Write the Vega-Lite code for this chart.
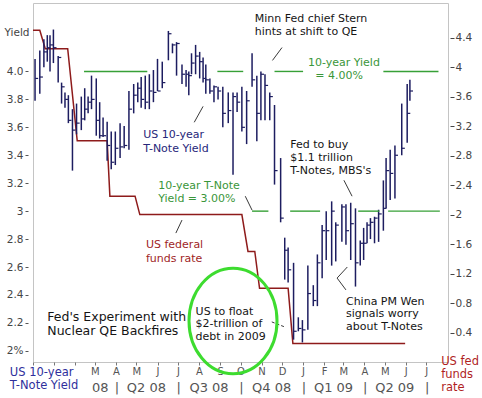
{
  "$schema": "https://vega.github.io/schema/vega-lite/v6.json",
  "width": 415,
  "height": 359,
  "autosize": {"type": "none"},
  "padding": {"left": 33, "top": 3, "right": 34, "bottom": 36},
  "background": "white",
  "config": {
    "view": {"stroke": "#c4c4c4", "strokeWidth": 1},
    "font": "DejaVu Sans",
    "axis": {"domain": false, "grid": false, "labelOverlap": false, "labelFlush": false, "labelBound": false}
  },
  "layer": [
    {
      "data": {"values": [
        {"date": "2007-12-01", "rate": 4.5},
        {"date": "2007-12-11", "rate": 4.5},
        {"date": "2007-12-19", "rate": 4.25},
        {"date": "2008-01-21", "rate": 4.25},
        {"date": "2008-02-04", "rate": 3.0},
        {"date": "2008-03-19", "rate": 3.0},
        {"date": "2008-03-23", "rate": 2.25},
        {"date": "2008-04-29", "rate": 2.25},
        {"date": "2008-05-06", "rate": 2.0},
        {"date": "2008-10-03", "rate": 2.0},
        {"date": "2008-10-12", "rate": 1.5},
        {"date": "2008-10-22", "rate": 1.5},
        {"date": "2008-10-29", "rate": 1.0},
        {"date": "2008-12-10", "rate": 1.0},
        {"date": "2008-12-17", "rate": 0.25},
        {"date": "2009-05-31", "rate": 0.25}
      ]},
      "mark": {"type": "line", "color": "#8e1b1b", "strokeWidth": 1.5},
      "encoding": {
        "x": {"field": "date", "type": "temporal", "axis": null,
              "scale": {"domain": [{"year": 2007, "month": 12, "date": 1, "utc": true}, {"year": 2009, "month": 8, "date": 2, "utc": true}], "nice": false}},
        "y": {"field": "rate", "type": "quantitative",
              "scale": {"domain": [0, 4.87], "nice": false, "zero": false},
              "axis": {"orient": "right", "title": null, "values": [0.4, 0.8, 1.2, 1.6, 2, 2.4, 2.8, 3.2, 3.6, 4, 4.4],
                       "labelExpr": "datum.value == 2 || datum.value == 4 ? format(datum.value, 'd') : format(datum.value, '.1f')",
                       "offset": 2, "tickSize": 4, "tickColor": "#444", "labelPadding": 1, "labelFontSize": 10.5, "labelColor": "#444",
                       "domain": false, "grid": false, "labelOverlap": false, "labelFlush": false}}
      }
    },
    {
      "layer": [
        {
          "data": {"name": "bars", "values": [
            {"date": "2007-12-04", "high": 4.09, "low": 3.79, "close": 3.95},
            {"date": "2007-12-11", "high": 4.15, "low": 3.84, "close": 3.96},
            {"date": "2007-12-17", "high": 4.23, "low": 4.03, "close": 4.14},
            {"date": "2007-12-22", "high": 4.26, "low": 4.07, "close": 4.17},
            {"date": "2007-12-26", "high": 4.26, "low": 4.00, "close": 4.19},
            {"date": "2007-12-31", "high": 4.30, "low": 4.06, "close": 4.17},
            {"date": "2008-01-07", "high": 4.11, "low": 3.92, "close": 4.10},
            {"date": "2008-01-12", "high": 3.92, "low": 3.77, "close": 3.89},
            {"date": "2008-01-17", "high": 3.85, "low": 3.74, "close": 3.80},
            {"date": "2008-01-22", "high": 3.83, "low": 3.63, "close": 3.65},
            {"date": "2008-01-28", "high": 3.73, "low": 3.29, "close": 3.58},
            {"date": "2008-02-03", "high": 3.77, "low": 3.55, "close": 3.63},
            {"date": "2008-02-10", "high": 3.82, "low": 3.58, "close": 3.66},
            {"date": "2008-02-15", "high": 3.88, "low": 3.65, "close": 3.73},
            {"date": "2008-02-20", "high": 3.82, "low": 3.70, "close": 3.78},
            {"date": "2008-02-25", "high": 3.97, "low": 3.73, "close": 3.80},
            {"date": "2008-03-03", "high": 3.95, "low": 3.54, "close": 3.65},
            {"date": "2008-03-08", "high": 3.78, "low": 3.52, "close": 3.54},
            {"date": "2008-03-13", "high": 3.67, "low": 3.53, "close": 3.54},
            {"date": "2008-03-19", "high": 3.64, "low": 3.36, "close": 3.47},
            {"date": "2008-03-25", "high": 3.57, "low": 3.30, "close": 3.35},
            {"date": "2008-03-31", "high": 3.57, "low": 3.33, "close": 3.45},
            {"date": "2008-04-07", "high": 3.63, "low": 3.38, "close": 3.46},
            {"date": "2008-04-13", "high": 3.61, "low": 3.45, "close": 3.47},
            {"date": "2008-04-20", "high": 3.86, "low": 3.44, "close": 3.73},
            {"date": "2008-04-27", "high": 3.91, "low": 3.70, "close": 3.83},
            {"date": "2008-05-03", "high": 3.92, "low": 3.78, "close": 3.88},
            {"date": "2008-05-08", "high": 3.96, "low": 3.74, "close": 3.80},
            {"date": "2008-05-14", "high": 3.97, "low": 3.73, "close": 3.78},
            {"date": "2008-05-20", "high": 3.98, "low": 3.73, "close": 3.86},
            {"date": "2008-05-26", "high": 4.01, "low": 3.78, "close": 3.85},
            {"date": "2008-06-01", "high": 4.09, "low": 3.86, "close": 3.86},
            {"date": "2008-06-08", "high": 4.07, "low": 3.88, "close": 3.92},
            {"date": "2008-06-17", "high": 4.29, "low": 4.08, "close": 4.27},
            {"date": "2008-06-23", "high": 4.20, "low": 4.13, "close": 4.19},
            {"date": "2008-06-29", "high": 4.21, "low": 3.97, "close": 4.20},
            {"date": "2008-07-07", "high": 4.05, "low": 3.91, "close": 3.98},
            {"date": "2008-07-13", "high": 4.01, "low": 3.89, "close": 3.98},
            {"date": "2008-07-17", "high": 4.00, "low": 3.83, "close": 3.97},
            {"date": "2008-07-21", "high": 4.13, "low": 3.98, "close": 4.06},
            {"date": "2008-07-27", "high": 4.19, "low": 3.98, "close": 4.11},
            {"date": "2008-08-02", "high": 4.14, "low": 3.95, "close": 4.07},
            {"date": "2008-08-07", "high": 4.10, "low": 3.92, "close": 3.95},
            {"date": "2008-08-11", "high": 4.05, "low": 3.84, "close": 3.94},
            {"date": "2008-08-17", "high": 3.95, "low": 3.84, "close": 3.86},
            {"date": "2008-08-23", "high": 3.90, "low": 3.78, "close": 3.89},
            {"date": "2008-08-29", "high": 3.89, "low": 3.80, "close": 3.86},
            {"date": "2008-09-05", "high": 3.89, "low": 3.60, "close": 3.70},
            {"date": "2008-09-13", "high": 3.85, "low": 3.63, "close": 3.72},
            {"date": "2008-09-20", "high": 3.85, "low": 3.26, "close": 3.82},
            {"date": "2008-09-26", "high": 3.85, "low": 3.71, "close": 3.78},
            {"date": "2008-10-03", "high": 3.89, "low": 3.57, "close": 3.60},
            {"date": "2008-10-10", "high": 3.86, "low": 3.48, "close": 3.79},
            {"date": "2008-10-18", "high": 4.13, "low": 3.89, "close": 3.94},
            {"date": "2008-10-25", "high": 3.97, "low": 3.50, "close": 3.70},
            {"date": "2008-10-31", "high": 4.00, "low": 3.65, "close": 3.98},
            {"date": "2008-11-06", "high": 3.98, "low": 3.65, "close": 3.90},
            {"date": "2008-11-13", "high": 3.85, "low": 3.65, "close": 3.82},
            {"date": "2008-11-20", "high": 3.76, "low": 3.19, "close": 3.29},
            {"date": "2008-11-29", "high": 3.38, "low": 2.92, "close": 2.95},
            {"date": "2008-12-05", "high": 2.81, "low": 2.51, "close": 2.72},
            {"date": "2008-12-10", "high": 2.74, "low": 2.49, "close": 2.58},
            {"date": "2008-12-18", "high": 2.63, "low": 2.08, "close": 2.14},
            {"date": "2008-12-25", "high": 2.24, "low": 2.14, "close": 2.16},
            {"date": "2008-12-31", "high": 2.22, "low": 2.06, "close": 2.15},
            {"date": "2009-01-08", "high": 2.61, "low": 2.15, "close": 2.41},
            {"date": "2009-01-16", "high": 2.47, "low": 2.32, "close": 2.36},
            {"date": "2009-01-22", "high": 2.69, "low": 2.32, "close": 2.63},
            {"date": "2009-01-29", "high": 2.90, "low": 2.52, "close": 2.86},
            {"date": "2009-02-04", "high": 3.00, "low": 2.65, "close": 2.86},
            {"date": "2009-02-12", "high": 3.07, "low": 2.61, "close": 3.00},
            {"date": "2009-02-18", "high": 2.92, "low": 2.64, "close": 2.90},
            {"date": "2009-02-27", "high": 3.05, "low": 2.78, "close": 3.03},
            {"date": "2009-03-05", "high": 3.05, "low": 2.76, "close": 2.86},
            {"date": "2009-03-12", "high": 3.06, "low": 2.65, "close": 2.91},
            {"date": "2009-03-19", "high": 3.02, "low": 2.46, "close": 2.63},
            {"date": "2009-03-26", "high": 2.79, "low": 2.61, "close": 2.77},
            {"date": "2009-03-31", "high": 2.88, "low": 2.65, "close": 2.77},
            {"date": "2009-04-05", "high": 2.92, "low": 2.77, "close": 2.90},
            {"date": "2009-04-10", "high": 2.95, "low": 2.80, "close": 2.92},
            {"date": "2009-04-16", "high": 2.96, "low": 2.77, "close": 2.95},
            {"date": "2009-04-22", "high": 3.01, "low": 2.78, "close": 2.98},
            {"date": "2009-04-29", "high": 3.22, "low": 2.86, "close": 3.02},
            {"date": "2009-05-03", "high": 3.38, "low": 3.02, "close": 3.29},
            {"date": "2009-05-09", "high": 3.44, "low": 3.08, "close": 3.27},
            {"date": "2009-05-16", "high": 3.47, "low": 3.09, "close": 3.40},
            {"date": "2009-05-26", "high": 3.77, "low": 3.40, "close": 3.45},
            {"date": "2009-06-03", "high": 3.91, "low": 3.49, "close": 3.70},
            {"date": "2009-06-07", "high": 3.94, "low": 3.79, "close": 3.86}
          ]},
          "mark": {"type": "rule", "color": "#1d1d60", "strokeWidth": 1.5},
          "encoding": {
            "x": {"field": "date", "type": "temporal",
                  "axis": {
                    "title": null, "domain": false, "grid": false, "labelAngle": 0,
                    "values": [
                      {"year": 2007, "month": 12, "date": 1, "utc": true},
                      {"year": 2008, "month": 1, "date": 1, "utc": true},
                      {"year": 2008, "month": 2, "date": 1, "utc": true},
                      {"year": 2008, "month": 3, "date": 1, "utc": true},
                      {"year": 2008, "month": 4, "date": 1, "utc": true},
                      {"year": 2008, "month": 5, "date": 1, "utc": true},
                      {"year": 2008, "month": 6, "date": 1, "utc": true},
                      {"year": 2008, "month": 7, "date": 1, "utc": true},
                      {"year": 2008, "month": 8, "date": 1, "utc": true},
                      {"year": 2008, "month": 9, "date": 1, "utc": true},
                      {"year": 2008, "month": 10, "date": 1, "utc": true},
                      {"year": 2008, "month": 11, "date": 1, "utc": true},
                      {"year": 2008, "month": 12, "date": 1, "utc": true},
                      {"year": 2009, "month": 1, "date": 1, "utc": true},
                      {"year": 2009, "month": 2, "date": 1, "utc": true},
                      {"year": 2009, "month": 3, "date": 1, "utc": true},
                      {"year": 2009, "month": 4, "date": 1, "utc": true},
                      {"year": 2009, "month": 5, "date": 1, "utc": true},
                      {"year": 2009, "month": 6, "date": 1, "utc": true},
                      {"year": 2009, "month": 7, "date": 1, "utc": true},
                      {"year": 2008, "month": 3, "date": 8, "utc": true},
                      {"year": 2008, "month": 5, "date": 15, "utc": true},
                      {"year": 2008, "month": 8, "date": 15, "utc": true},
                      {"year": 2008, "month": 11, "date": 15, "utc": true},
                      {"year": 2009, "month": 2, "date": 14, "utc": true},
                      {"year": 2009, "month": 5, "date": 15, "utc": true},
                      {"year": 2008, "month": 4, "date": 1, "hours": 12, "utc": true},
                      {"year": 2008, "month": 7, "date": 1, "hours": 12, "utc": true},
                      {"year": 2008, "month": 10, "date": 1, "hours": 12, "utc": true},
                      {"year": 2009, "month": 1, "date": 1, "hours": 12, "utc": true},
                      {"year": 2009, "month": 4, "date": 1, "hours": 12, "utc": true},
                      {"year": 2009, "month": 7, "date": 1, "hours": 12, "utc": true}
                    ],
                    "labelExpr": "utchours(datum.value) == 12 ? '|' : (utcdate(datum.value) != 1 ? ((utcyear(datum.value) == 2008 && utcmonth(datum.value) == 2) ? '08' : 'Q' + (floor(utcmonth(datum.value) / 3) + 1) + ' ' + utcFormat(datum.value, '%y')) : ((utcyear(datum.value) == 2007 || (utcyear(datum.value) == 2008 && utcmonth(datum.value) < 2)) ? '' : substring(utcFormat(datum.value, '%b'), 0, 1)))",
                    "tickSize": 3, "tickColor": "#777",
                    "tickOpacity": {"condition": {"test": "utcdate(datum.value) != 1 || utchours(datum.value) == 12", "value": 0}, "value": 1},
                    "labelFontSize": {"condition": {"test": "utcdate(datum.value) != 1 || utchours(datum.value) == 12", "value": 13}, "value": 10},
                    "labelPadding": {"condition": {"test": "utcdate(datum.value) != 1 || utchours(datum.value) == 12", "value": 16}, "value": 1},
                    "labelColor": "#555", "labelOverlap": false, "labelFlush": false, "labelBound": false
                  }},
            "y": {"field": "high", "type": "quantitative",
                  "scale": {"domain": [1.92, 4.49], "nice": false, "zero": false},
                  "axis": {
                    "title": null, "domain": false, "grid": false,
                    "values": [2, 2.2, 2.4, 2.6, 2.8, 3, 3.2, 3.4, 3.6, 3.8, 4, 4.28],
                    "labelExpr": "datum.value > 4.2 ? 'Yield' : (datum.value == 2 ? '2%' : (datum.value == 3 ? '3' : format(datum.value, '.1f')))",
                    "offset": 5, "tickSize": 3, "tickColor": "#555",
                    "tickOpacity": {"condition": {"test": "datum.value > 4.2", "value": 0}, "value": 1},
                    "labelPadding": {"condition": {"test": "datum.value > 4.2", "value": -4}, "value": 2},
                    "labelFontSize": 10.5, "labelColor": "#444", "labelOverlap": false, "labelFlush": false
                  }},
            "y2": {"field": "low"}
          }
        },
        {
          "data": {"values": [
            {"start": "2008-02-14", "end": "2008-05-17", "level": 4.0},
            {"start": "2008-08-28", "end": "2008-10-05", "level": 4.0},
            {"start": "2008-11-20", "end": "2009-01-01", "level": 4.0},
            {"start": "2009-04-29", "end": "2009-07-19", "level": 4.0},
            {"start": "2008-10-18", "end": "2008-11-11", "level": 3.0},
            {"start": "2008-12-13", "end": "2009-01-26", "level": 3.0},
            {"start": "2009-03-23", "end": "2009-04-23", "level": 3.0},
            {"start": "2009-05-06", "end": "2009-07-21", "level": 3.0}
          ]},
          "mark": {"type": "rule", "color": "#37a037", "strokeWidth": 1.4},
          "encoding": {
            "x": {"field": "start", "type": "temporal", "axis": null},
            "x2": {"field": "end"},
            "y": {"field": "level", "type": "quantitative", "axis": null}
          }
        },
        {
          "data": {"name": "bars"},
          "mark": {"type": "tick", "orient": "horizontal", "size": 3, "thickness": 1.2, "xOffset": 1.6, "color": "#1d1d60", "opacity": 1},
          "encoding": {
            "x": {"field": "date", "type": "temporal", "axis": null},
            "y": {"field": "close", "type": "quantitative", "axis": null}
          }
        },
        {
          "data": {"values": [
            {"x": "2008-07-25", "x2": "2008-08-07", "y": 3.636, "y2": 3.75},
            {"x": "2008-11-17", "x2": "2008-12-01", "y": 4.079, "y2": 4.171},
            {"x": "2008-10-08", "x2": "2008-10-18", "y": 3.107, "y2": 3.007},
            {"x": "2008-06-28", "x2": "2008-07-07", "y": 2.843, "y2": 2.936},
            {"x": "2009-03-02", "x2": "2009-03-14", "y": 3.221, "y2": 3.107},
            {"x": "2009-03-07", "x2": "2009-02-20", "y": 2.60, "y2": 2.521},
            {"x": "2009-02-20", "x2": "2009-03-05", "y": 2.521, "y2": 2.436}
          ]},
          "mark": {"type": "rule", "color": "#222", "strokeWidth": 0.9},
          "encoding": {
            "x": {"field": "x", "type": "temporal", "axis": null},
            "x2": {"field": "x2"},
            "y": {"field": "y", "type": "quantitative", "axis": null},
            "y2": {"field": "y2"}
          }
        },
        {
          "data": {"values": [
            {"x": "2008-11-16", "x2": "2008-12-05", "y": 2.207, "y2": 2.171}
          ]},
          "mark": {"type": "rule", "color": "#222", "strokeWidth": 0.9, "strokeDash": [3, 2]},
          "encoding": {
            "x": {"field": "x", "type": "temporal", "axis": null},
            "x2": {"field": "x2"},
            "y": {"field": "y", "type": "quantitative", "axis": null},
            "y2": {"field": "y2"}
          }
        },
        {
          "data": {"values": [
            {"date": "2008-05-11", "y": 3.543, "label": "US 10-year"},
            {"date": "2008-05-11", "y": 3.443, "label": "T-Note Yield"}
          ]},
          "mark": {"type": "text", "align": "left", "baseline": "middle", "fontSize": 11, "color": "#27277a"},
          "encoding": {
            "x": {"field": "date", "type": "temporal", "axis": null},
            "y": {"field": "y", "type": "quantitative", "axis": null},
            "text": {"field": "label"}
          }
        },
        {
          "data": {"values": [
            {"date": "2008-10-22", "y": 4.379, "label": "Minn Fed chief Stern"},
            {"date": "2008-10-22", "y": 4.279, "label": "hints at shift to QE"},
            {"date": "2008-12-13", "y": 3.471, "label": "Fed to buy"},
            {"date": "2008-12-13", "y": 3.379, "label": "$1.1  trillion"},
            {"date": "2008-12-13", "y": 3.286, "label": "T-Notes, MBS's"},
            {"date": "2009-03-05", "y": 2.35, "label": "China PM Wen"},
            {"date": "2009-03-05", "y": 2.264, "label": "signals worry"},
            {"date": "2009-03-05", "y": 2.171, "label": "about T-Notes"},
            {"date": "2008-07-27", "y": 2.279, "label": "US to float"},
            {"date": "2008-07-27", "y": 2.193, "label": "$2-trillion of"},
            {"date": "2008-07-27", "y": 2.10, "label": "debt in 2009"}
          ]},
          "mark": {"type": "text", "align": "left", "baseline": "middle", "fontSize": 11, "color": "#151515"},
          "encoding": {
            "x": {"field": "date", "type": "temporal", "axis": null},
            "y": {"field": "y", "type": "quantitative", "axis": null},
            "text": {"field": "label"}
          }
        },
        {
          "data": {"values": [
            {"date": "2008-06-02", "y": 3.179, "label": "10-year T-Note"},
            {"date": "2008-06-02", "y": 3.086, "label": "Yield = 3.00%"}
          ]},
          "mark": {"type": "text", "align": "left", "baseline": "middle", "fontSize": 11, "color": "#3a963a"},
          "encoding": {
            "x": {"field": "date", "type": "temporal", "axis": null},
            "y": {"field": "y", "type": "quantitative", "axis": null},
            "text": {"field": "label"}
          }
        },
        {
          "data": {"values": [
            {"date": "2009-03-02", "y": 4.057, "label": "10-year Yield"},
            {"date": "2009-02-23", "y": 3.964, "label": "= 4.00%"}
          ]},
          "mark": {"type": "text", "align": "center", "baseline": "middle", "fontSize": 11, "color": "#3a963a"},
          "encoding": {
            "x": {"field": "date", "type": "temporal", "axis": null},
            "y": {"field": "y", "type": "quantitative", "axis": null},
            "text": {"field": "label"}
          }
        },
        {
          "data": {"values": [
            {"date": "2008-05-15", "y": 2.757, "label": "US federal"},
            {"date": "2008-05-15", "y": 2.657, "label": "funds rate"}
          ]},
          "mark": {"type": "text", "align": "left", "baseline": "middle", "fontSize": 11, "color": "#a01f1f"},
          "encoding": {
            "x": {"field": "date", "type": "temporal", "axis": null},
            "y": {"field": "y", "type": "quantitative", "axis": null},
            "text": {"field": "label"}
          }
        },
        {
          "data": {"values": [
            {"date": "2007-12-22", "y": 2.243, "label": "Fed's Experiment with"},
            {"date": "2007-12-22", "y": 2.143, "label": "Nuclear QE Backfires"}
          ]},
          "mark": {"type": "text", "align": "left", "baseline": "middle", "fontSize": 12.5, "color": "#151515"},
          "encoding": {
            "x": {"field": "date", "type": "temporal", "axis": null},
            "y": {"field": "y", "type": "quantitative", "axis": null},
            "text": {"field": "label"}
          }
        },
        {
          "data": {"values": [
            {"date": "2007-10-28", "y": 1.843, "label": "US 10-year"},
            {"date": "2007-10-28", "y": 1.75, "label": "T-Note Yield"}
          ]},
          "mark": {"type": "text", "align": "left", "baseline": "middle", "fontSize": 11.5, "color": "#2f2f9c"},
          "encoding": {
            "x": {"field": "date", "type": "temporal", "axis": null},
            "y": {"field": "y", "type": "quantitative", "axis": null},
            "text": {"field": "label"}
          }
        },
        {
          "data": {"values": [
            {"date": "2009-07-23", "y": 1.921, "label": "US fed"},
            {"date": "2009-07-23", "y": 1.829, "label": "funds"},
            {"date": "2009-07-23", "y": 1.736, "label": "rate"}
          ]},
          "mark": {"type": "text", "align": "left", "baseline": "middle", "fontSize": 11.5, "color": "#b01f1f"},
          "encoding": {
            "x": {"field": "date", "type": "temporal", "axis": null},
            "y": {"field": "y", "type": "quantitative", "axis": null},
            "text": {"field": "label"}
          }
        },
        {
          "data": {"values": [
            {"date": "2008-09-20", "y": 2.214}
          ]},
          "mark": {"type": "point", "filled": false, "opacity": 1, "strokeWidth": 3, "color": "#3ddc2f", "size": 7744,
                   "shape": "M -1 0 C -1 -0.663 -0.552 -1.2 0 -1.2 C 0.552 -1.2 1 -0.663 1 0 C 1 0.663 0.552 1.2 0 1.2 C -0.552 1.2 -1 0.663 -1 0 Z"},
          "encoding": {
            "x": {"field": "date", "type": "temporal", "axis": null},
            "y": {"field": "y", "type": "quantitative", "axis": null}
          }
        }
      ],
      "resolve": {"axis": {"x": "independent", "y": "independent"}}
    }
  ],
  "resolve": {"scale": {"y": "independent"}, "axis": {"x": "independent"}}
}
